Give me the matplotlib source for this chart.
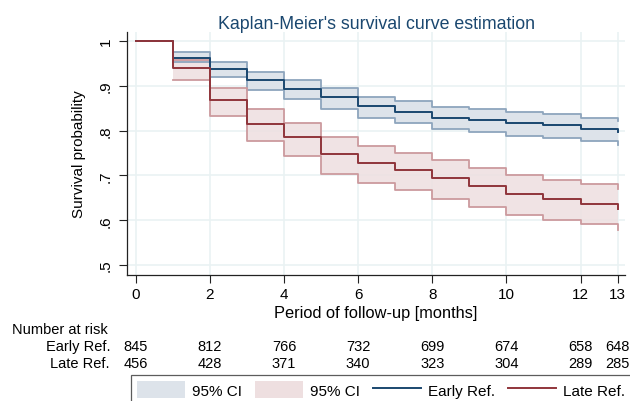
import matplotlib
matplotlib.use("Agg")
import matplotlib.pyplot as plt
import matplotlib.transforms as mtransforms
from matplotlib.patches import Patch
from matplotlib.lines import Line2D

plt.rcParams['font.family'] = ['Liberation Sans', 'DejaVu Sans']

# follow-up months, last entry is the drop at month 13
months = list(range(0, 14))

early_surv = [1.0, 0.962, 0.938, 0.913, 0.893, 0.874, 0.855, 0.842, 0.829, 0.824, 0.816, 0.812, 0.803, 0.796]
early_hi = [1.0, 0.975, 0.952, 0.930, 0.912, 0.895, 0.876, 0.866, 0.852, 0.848, 0.841, 0.837, 0.829, 0.822]
early_lo = [1.0, 0.953, 0.919, 0.890, 0.870, 0.849, 0.829, 0.818, 0.803, 0.797, 0.789, 0.783, 0.776, 0.768]

late_surv = [1.0, 0.939, 0.868, 0.815, 0.785, 0.747, 0.727, 0.712, 0.694, 0.676, 0.659, 0.647, 0.637, 0.626]
late_hi = [1.0, 0.957, 0.896, 0.848, 0.818, 0.785, 0.765, 0.751, 0.735, 0.717, 0.700, 0.690, 0.680, 0.669]
late_lo = [1.0, 0.912, 0.833, 0.776, 0.744, 0.704, 0.683, 0.667, 0.648, 0.630, 0.612, 0.601, 0.591, 0.579]

# number at risk table
risk_times = [0, 2, 4, 6, 8, 10, 12, 13]
early_risk = [845, 812, 766, 732, 699, 674, 658, 648]
late_risk = [456, 428, 371, 340, 323, 304, 289, 285]

xticks = [0, 2, 4, 6, 8, 10, 12, 13]
yticks = [0.5, 0.6, 0.7, 0.8, 0.9, 1.0]
ytick_labels = ['.5', '.6', '.7', '.8', '.9', '1']

blue = '#1a476f'
blue_fill = '#dde3ea'
blue_edge = '#8ea5bd'
red = '#90353b'
red_fill = '#eedfe0'
red_edge = '#cc9a9e'
grid_col = '#eaf2f3'

fs = 11

fig = plt.figure(figsize=(6.3, 4.02), dpi=100)
ax = fig.add_axes([127 / 630, 1 - 276 / 402, 498 / 630, 243 / 402])

# confidence bands (start at month 1)
ci_t = months[1:]
ax.fill_between(ci_t, early_lo[1:], early_hi[1:], step='post', color=blue_fill, lw=0, zorder=2)
ax.step(ci_t, early_hi[1:], where='post', color=blue_edge, lw=1.3, zorder=3)
ax.step(ci_t, early_lo[1:], where='post', color=blue_edge, lw=1.3, zorder=3)

ax.fill_between(ci_t, late_lo[1:], late_hi[1:], step='post', color=red_fill, lw=0, alpha=0.85, zorder=2)
ax.step(ci_t, late_hi[1:], where='post', color=red_edge, lw=1.3, zorder=3)
ax.step(ci_t, late_lo[1:], where='post', color=red_edge, lw=1.3, zorder=3)

# survival curves
ax.step(months, early_surv, where='post', color=blue, lw=1.4, zorder=4)
ax.step(months, late_surv, where='post', color=red, lw=1.4, zorder=5)

ax.set_xlim(-0.24, 13.2)
ax.set_ylim(0.478, 1.02)
ax.set_xticks(xticks)
ax.set_yticks(yticks)
ax.set_yticklabels(ytick_labels, rotation=90, va='center')
ax.tick_params(labelsize=fs, length=5.5, color='#222222', width=0.8)
ax.tick_params(axis='y', pad=5)
ax.grid(True, color=grid_col, lw=1.2, zorder=0)
ax.set_axisbelow(True)
for side in ['top', 'right']:
    ax.spines[side].set_visible(False)
for side in ['left', 'bottom']:
    ax.spines[side].set_color('#222222')
    ax.spines[side].set_linewidth(0.9)

ax.set_title("Kaplan-Meier's survival curve estimation", color=blue, fontsize=12.8, pad=3)
ax.set_ylabel('Survival probability', fontsize=fs, labelpad=9)
ax.set_xlabel('Period of follow-up [months]', fontsize=11.8, labelpad=2.5)

# number at risk rows, x in data units and y in figure units
trans = mtransforms.blended_transform_factory(ax.transData, fig.transFigure)
fig.text(12 / 630, 1 - 330 / 402, 'Number at risk', fontsize=10.5, va='center', ha='left')
fig.text(110 / 630, 1 - 347 / 402, 'Early Ref.', fontsize=10.5, va='center', ha='right')
fig.text(110 / 630, 1 - 364 / 402, 'Late Ref.', fontsize=10.5, va='center', ha='right')
for t, e, l in zip(risk_times, early_risk, late_risk):
    fig.text(t, 1 - 347 / 402, str(e), transform=trans, fontsize=10.5, va='center', ha='center')
    fig.text(t, 1 - 364 / 402, str(l), transform=trans, fontsize=10.5, va='center', ha='center')

handles = [
    Patch(facecolor=blue_fill, edgecolor='none'),
    Patch(facecolor=red_fill, edgecolor='none'),
    Line2D([0], [0], color=blue, lw=1.4),
    Line2D([0], [0], color=red, lw=1.4),
]
labels = ['95% CI', '95% CI', 'Early Ref.', 'Late Ref.']
leg = fig.legend(handles, labels, ncol=4, loc='upper left', bbox_to_anchor=(131 / 630, 1 - 376 / 402),
                 fontsize=fs, frameon=True, fancybox=False, edgecolor='#333333',
                 handlelength=3.15, handleheight=1.3, handletextpad=0.45, columnspacing=0.85,
                 borderpad=0.4, borderaxespad=0)
leg.get_frame().set_linewidth(0.9)

fig.savefig('out.png', dpi=100)
